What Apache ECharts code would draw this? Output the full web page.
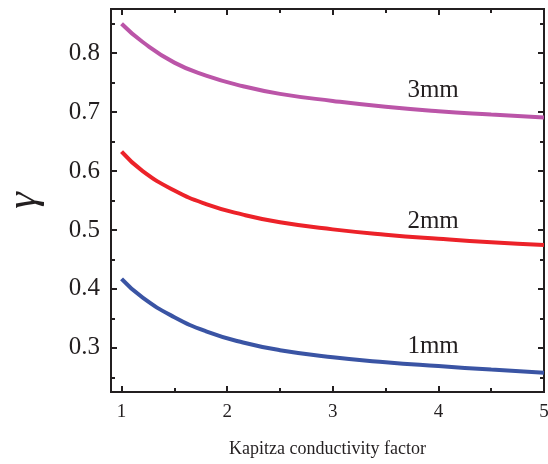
<!DOCTYPE html>
<html>
<head>
<meta charset="utf-8">
<script src="https://cdn.jsdelivr.net/npm/echarts@6/dist/echarts.min.js"></script>
<style>html,body{margin:0;padding:0;background:#fff}#c{width:548px;height:464px}</style>
</head>
<body>
<div id="c"></div>
<script>
// ---- data ----
const xVals = [1, 1.2, 1.5, 1.8, 2.15, 2.5, 3, 3.5, 4, 4.5, 5];
const mm3 = [0.850, 0.819, 0.784, 0.762, 0.744, 0.731, 0.719, 0.709, 0.7015, 0.696, 0.691];
const mm2 = [0.633, 0.600, 0.567, 0.544, 0.526, 0.513, 0.501, 0.492, 0.485, 0.479, 0.4745];
const mm1 = [0.417, 0.385, 0.352, 0.328, 0.309, 0.296, 0.284, 0.2755, 0.269, 0.263, 0.2575];
const seriesNames = ['3mm', '2mm', '1mm'];
const labelX = [3.95, 3.95, 3.95];
const labelY = [0.737, 0.514, 0.302];
const xMajor = [1, 2, 3, 4, 5];
const xMinor = [1.5, 2.5, 3.5, 4.5];
const yMajor = [0.3, 0.4, 0.5, 0.6, 0.7, 0.8];
const yMinor = [0.25, 0.35, 0.45, 0.55, 0.65, 0.75, 0.85];
const xName = 'Kapitza conductivity factor';
const yName = 'γ';

const colors = ['#bb55a8', '#ec2229', '#3a54a4'];
const FONT = '"Liberation Serif", "Times New Roman", serif';
const TXT = '#231f20';
const XMIN = 0.9, XMAX = 5, YMIN = 0.225, YMAX = 0.875;

function xAx(pos, vals, len, showLabel, extra) {
  return Object.assign({
    type: 'value', min: XMIN, max: XMAX, position: pos, gridIndex: 0,
    axisLine: {show: true, onZero: false, lineStyle: {color: '#231f20', width: 2}},
    axisTick: {show: true, inside: true, length: len, customValues: vals, lineStyle: {color: '#231f20', width: 2}},
    axisLabel: {show: showLabel, customValues: vals, margin: 11, fontFamily: FONT, fontSize: 19, color: TXT},
    splitLine: {show: false}
  }, extra || {});
}
function yAx(pos, vals, len, showLabel, extra) {
  return Object.assign({
    type: 'value', min: YMIN, max: YMAX, position: pos, gridIndex: 0,
    axisLine: {show: true, onZero: false, lineStyle: {color: '#231f20', width: 2}},
    axisTick: {show: true, inside: true, length: len, customValues: vals, lineStyle: {color: '#231f20', width: 2}},
    axisLabel: {show: showLabel, customValues: vals, margin: 11, fontFamily: FONT, fontSize: 25, color: TXT,
      formatter: v => v.toFixed(1)},
    splitLine: {show: false}
  }, extra || {});
}

const data = [mm3, mm2, mm1];
const series = data.map((arr, i) => ({
  type: 'line', name: seriesNames[i], smooth: 0.5, symbol: 'none',
  xAxisIndex: 0, yAxisIndex: 0,
  lineStyle: {color: colors[i], width: 4},
  data: xVals.map((x, j) => [x, arr[j]])
}));
series.push({
  type: 'scatter', xAxisIndex: 0, yAxisIndex: 0, silent: true,
  symbol: 'circle', symbolSize: 2, itemStyle: {color: 'rgba(255,255,255,0)'},
  data: seriesNames.map((n, i) => ({value: [labelX[i], labelY[i]], name: n})),
  label: {show: true, position: 'inside', formatter: p => p.name, fontFamily: FONT, fontSize: 25,
    color: TXT, opacity: 1, textBorderWidth: 0, textShadowBlur: 0},
  labelLayout: {hideOverlap: false},
  z: 10
});

const chart = echarts.init(document.getElementById('c'), null, {renderer: 'canvas'});
chart.setOption({
  animation: false,
  backgroundColor: '#fff',
  grid: {left: 111, right: 4, top: 9, bottom: 72, containLabel: false, outerBoundsMode: 'none'},
  xAxis: [
    xAx('bottom', xMajor, 6, true, {name: xName, nameLocation: 'middle', nameGap: 48,
      nameTextStyle: {fontFamily: FONT, fontSize: 18, color: TXT}}),
    xAx('bottom', xMinor, 4, false),
    xAx('top', xMajor, 6, false),
    xAx('top', xMinor, 4, false)
  ],
  yAxis: [
    yAx('left', yMajor, 6, true, {name: yName, nameLocation: 'middle', nameGap: 66, nameRotate: 90,
      nameTextStyle: {fontFamily: FONT, fontSize: 42, fontStyle: 'italic', color: TXT}}),
    yAx('left', yMinor, 4, false),
    yAx('right', yMajor, 6, false),
    yAx('right', yMinor, 4, false)
  ],
  series: series
});
</script>
</body>
</html>
